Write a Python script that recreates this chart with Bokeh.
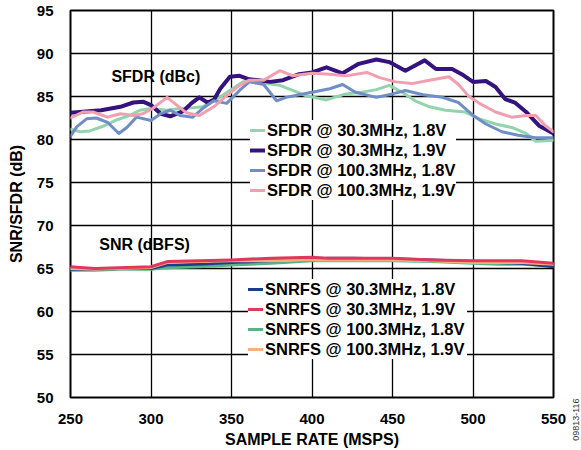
import math
from bokeh.plotting import figure
from bokeh.layouts import row
from bokeh.models import FixedTicker, Legend, LegendItem, Label
from bokeh.embed import file_html
from bokeh.resources import INLINE

# ---------------- data ----------------
x_ticks = [250, 300, 350, 400, 450, 500, 550]
y_ticks = [50, 55, 60, 65, 70, 75, 80, 85, 90, 95]

sfdr_303_18_x = [250, 256, 262, 271, 279, 287, 293, 300, 310, 318, 326, 332, 341, 349, 357, 363, 372, 380, 388, 396, 409, 421, 431, 440, 448, 456, 464, 473, 483, 495, 504, 514, 524, 533, 539, 550]
sfdr_303_18_y = [81.2, 80.9, 81.0, 81.6, 82.3, 82.8, 83.4, 83.6, 83.4, 83.6, 83.7, 83.8, 84.7, 85.7, 86.7, 86.9, 86.5, 86.3, 85.7, 85.1, 84.6, 85.3, 85.5, 85.8, 86.3, 85.5, 84.5, 83.8, 83.4, 83.2, 82.4, 81.8, 81.4, 80.7, 79.8, 79.9]

sfdr_303_19_x = [250, 269, 281, 289, 295, 300, 306, 312, 320, 325, 330, 335, 339, 343, 349, 355, 361, 367, 374, 382, 392, 400, 409, 419, 429, 440, 448, 458, 462, 470, 477, 487, 493, 500, 508, 514, 520, 526, 533, 541, 550]
sfdr_303_19_y = [83.1, 83.4, 83.8, 84.3, 84.4, 84.0, 83.0, 82.7, 83.3, 84.2, 84.9, 84.3, 84.6, 85.9, 87.3, 87.4, 87.0, 86.9, 86.7, 86.9, 87.6, 87.8, 88.4, 87.7, 88.8, 89.3, 89.0, 88.0, 88.4, 89.2, 88.2, 88.2, 87.6, 86.7, 86.8, 86.1, 84.7, 84.3, 83.2, 81.6, 80.7]

sfdr_1003_18_x = [250, 254, 260, 266, 273, 280, 285, 291, 300, 306, 312, 318, 326, 332, 339, 347, 355, 361, 370, 378, 384, 392, 400, 411, 419, 427, 440, 450, 458, 469, 481, 491, 500, 508, 518, 528, 539, 550]
sfdr_1003_18_y = [80.4, 81.5, 82.4, 82.5, 82.0, 80.7, 81.4, 82.6, 82.2, 83.0, 83.4, 82.8, 82.6, 83.6, 84.5, 84.2, 85.7, 86.7, 86.4, 84.5, 84.9, 85.2, 85.5, 85.9, 86.4, 85.5, 84.9, 85.3, 85.7, 85.2, 84.9, 84.3, 82.8, 81.8, 80.9, 80.5, 80.2, 80.2]

sfdr_1003_19_x = [250, 258, 264, 273, 281, 289, 295, 301, 310, 316, 322, 330, 339, 347, 355, 361, 370, 380, 388, 400, 411, 421, 434, 442, 452, 462, 473, 485, 491, 497, 504, 514, 524, 533, 539, 545, 550]
sfdr_1003_19_y = [82.5, 83.2, 83.2, 82.6, 83.0, 82.8, 83.0, 83.6, 84.9, 84.0, 83.1, 82.8, 83.8, 85.1, 86.3, 86.9, 86.9, 88.0, 87.4, 87.7, 87.6, 87.4, 87.8, 87.2, 86.7, 86.5, 86.9, 87.3, 86.4, 85.1, 84.2, 83.2, 82.6, 82.8, 82.8, 81.6, 80.9]

snr_x = [250, 265, 280, 300, 310, 330, 350, 375, 400, 410, 425, 450, 475, 500, 515, 530, 550]
snrfs_303_18 = [64.9, 64.9, 65.0, 65.0, 65.4, 65.5, 65.7, 65.9, 66.0, 66.2, 66.2, 66.1, 66.0, 65.8, 65.7, 65.6, 65.2]
snrfs_303_19 = [65.2, 65.0, 65.1, 65.2, 65.8, 65.9, 66.0, 66.2, 66.3, 66.2, 66.2, 66.2, 66.0, 65.9, 65.9, 65.9, 65.6]
snrfs_1003_18 = [64.8, 64.8, 64.9, 64.9, 65.1, 65.2, 65.4, 65.6, 65.9, 65.9, 65.9, 65.9, 65.8, 65.6, 65.5, 65.5, 65.3]
snrfs_1003_19 = [65.0, 64.9, 65.0, 65.1, 65.7, 65.8, 65.9, 65.9, 66.0, 66.0, 66.0, 66.0, 65.9, 65.7, 65.7, 65.7, 65.5]

sfdr_labels = ["SFDR @ 30.3MHz, 1.8V", "SFDR @ 30.3MHz, 1.9V",
               "SFDR @ 100.3MHz, 1.8V", "SFDR @ 100.3MHz, 1.9V"]
snr_labels = ["SNRFS @ 30.3MHz, 1.8V", "SNRFS @ 30.3MHz, 1.9V",
              "SNRFS @ 100.3MHz, 1.8V", "SNRFS @ 100.3MHz, 1.9V"]
fig_code = "09813-116"

sfdr_colors = ["#93d3ad", "#35137f", "#6f8ec6", "#f19fb0"]
snr_colors = ["#1d3b8b", "#e0385a", "#57b487", "#f8ae7d"]

FONT = "Liberation Sans"

# ---------------- figure ----------------
p = figure(width=566, height=450, x_range=(250, 550), y_range=(50, 95),
           output_backend="svg", toolbar_location=None,
           min_border_left=70, min_border_right=13,
           min_border_top=10, min_border_bottom=53)
p.background_fill_color = "white"
p.border_fill_color = "white"
p.outline_line_color = "black"
p.outline_line_width = 2

for ax in (p.xaxis, p.yaxis):
    ax.axis_line_color = None
    ax.major_tick_line_color = None
    ax.minor_tick_line_color = None
    ax.major_label_text_font = FONT
    ax.major_label_text_font_style = "bold"
    ax.major_label_text_font_size = "15px"
    ax.major_label_text_color = "black"
    ax.axis_label_text_font = FONT
    ax.axis_label_text_font_style = "bold"
    ax.axis_label_text_font_size = "16px"
    ax.axis_label_text_color = "black"

p.xaxis.ticker = FixedTicker(ticks=x_ticks)
p.yaxis.ticker = FixedTicker(ticks=y_ticks)
p.xaxis.axis_label = "SAMPLE RATE (MSPS)"
p.yaxis.axis_label = "SNR/SFDR (dB)"
p.xaxis.major_label_standoff = 10
p.xaxis.axis_label_standoff = 4
p.yaxis.major_label_standoff = 11
p.yaxis.axis_label_standoff = 9

p.xgrid.ticker = FixedTicker(ticks=x_ticks)
p.ygrid.ticker = FixedTicker(ticks=y_ticks)
for g in (p.xgrid, p.ygrid):
    g.grid_line_color = "black"
    g.grid_line_width = 1.3
    g.grid_line_alpha = 1

# SFDR lines
sfdr_series = [(sfdr_303_18_x, sfdr_303_18_y, 3),
               (sfdr_303_19_x, sfdr_303_19_y, 4),
               (sfdr_1003_18_x, sfdr_1003_18_y, 3),
               (sfdr_1003_19_x, sfdr_1003_19_y, 3)]
sfdr_items = []
for (xs, ys, w), c, lab in zip(sfdr_series, sfdr_colors, sfdr_labels):
    r = p.line(xs, ys, line_color=c, line_width=w, line_join="round", line_cap="round")
    sfdr_items.append(LegendItem(label=lab, renderers=[r]))

# SNR lines (drawn lowest first)
snr_all = [snrfs_303_18, snrfs_303_19, snrfs_1003_18, snrfs_1003_19]
draw_order = [2, 0, 3, 1]
snr_renderers = [None] * 4
for i in draw_order:
    r = p.line(snr_x, snr_all[i], line_color=snr_colors[i], line_width=3,
               line_join="round", line_cap="round")
    snr_renderers[i] = r
snr_items = [LegendItem(label=lab, renderers=[r]) for lab, r in zip(snr_labels, snr_renderers)]

def make_legend(items, loc, lw):
    return Legend(items=items, location=loc, margin=0, padding=3, spacing=0,
                  glyph_width=15, glyph_height=20, label_height=20,
                  label_standoff=2, label_width=lw,
                  label_text_font=FONT, label_text_font_style="bold",
                  label_text_font_size="16.5px", label_text_color="black",
                  background_fill_color="white", background_fill_alpha=1,
                  border_line_color=None)

p.add_layout(make_legend(sfdr_items, (180, 197), 187), "center")
p.add_layout(make_legend(snr_items, (178, 38), 202), "center")

# annotations
p.add_layout(Label(x=303, y=87.3, text="SFDR (dBc)", text_align="center",
                   text_baseline="middle", text_font=FONT,
                   text_font_style="bold", text_font_size="16px", text_color="black"))
p.add_layout(Label(x=296, y=67.75, text="SNR (dBFS)", text_align="center",
                   text_baseline="middle", text_font=FONT,
                   text_font_style="bold", text_font_size="16px", text_color="black"))

# narrow side strip: the figure code as a rotated tick label under its frame
side = figure(width=15, height=450, x_range=(0, 15), y_range=(0, 1),
              output_backend="svg", toolbar_location=None,
              min_border_left=0, min_border_right=0, min_border_top=10, min_border_bottom=53)
side.yaxis.visible = False
side.grid.visible = False
side.outline_line_color = None
side.background_fill_color = "white"
side.border_fill_color = "white"
side.xaxis.ticker = FixedTicker(ticks=[9])
side.xaxis.major_label_overrides = {9: fig_code}
side.xaxis.major_label_orientation = math.pi / 2
side.xaxis.axis_line_color = None
side.xaxis.major_tick_line_color = None
side.xaxis.minor_tick_line_color = None
side.xaxis.major_tick_out = 0
side.xaxis.major_tick_in = 0
side.xaxis.major_label_standoff = 1
side.xaxis.major_label_text_font = FONT
side.xaxis.major_label_text_font_size = "9px"
side.xaxis.major_label_text_font_style = "normal"
side.xaxis.major_label_text_color = "#333333"

layout = row(p, side, spacing=0)
open("out.html", "w").write(file_html(layout, INLINE))
